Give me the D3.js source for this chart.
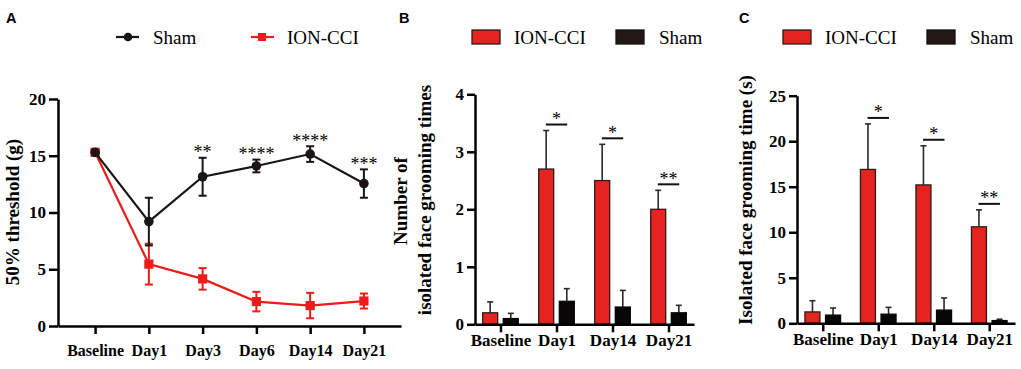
<!DOCTYPE html>
<html>
<head>
<meta charset="utf-8">
<script src="https://cdn.jsdelivr.net/npm/d3@7"></script>
<style>
  body { margin: 0; background: #fff; }
  svg { display: block; }
</style>
</head>
<body>
<div id="chart"></div>
<script>
// --------------------------------------
//  Data
// --------------------------------------

const daysA = ["Baseline", "Day1", "Day3", "Day6", "Day14", "Day21"];
const shamA = [15.3, 9.2, 13.15, 14.1, 15.15, 12.55];
const shamSdA = [0.15, 2.1, 1.67, 0.56, 0.69, 1.25];
const cciA = [15.3, 5.45, 4.15, 2.15, 1.8, 2.2];
const cciSdA = [0.2, 1.8, 0.95, 0.86, 1.12, 0.66];
const starsA = ["", "", "**", "****", "****", "***"];
const ticksA = [0, 5, 10, 15, 20];

const daysBC = ["Baseline", "Day1", "Day14", "Day21"];

const cciB = [0.2, 2.7, 2.5, 2.0];
const cciSdB = [0.19, 0.67, 0.63, 0.33];
const shamB = [0.1, 0.4, 0.3, 0.2];
const shamSdB = [0.09, 0.22, 0.29, 0.13];
const starsB = ["", "*", "*", "**"];
const ticksB = [0, 1, 2, 3, 4];

const cciC = [1.25, 16.9, 15.2, 10.6];
const cciSdC = [1.23, 5.0, 4.3, 1.86];
const shamC = [0.9, 1.0, 1.45, 0.3];
const shamSdC = [0.78, 0.75, 1.33, 0.15];
const starsC = ["", "*", "*", "**"];
const ticksC = [0, 5, 10, 15, 20, 25];

// --------------------------------------
//  Canvas
// --------------------------------------

const width = 1021, height = 369;
const serif = "'Liberation Serif', 'Times New Roman', serif";
const red = "#e52420";
const lineRed = "#ec1c1c";
const dark = "#1a1414";

const svg = d3.select("#chart")
  .append("svg")
    .attr("width", width)
    .attr("height", height)
    .style("font-family", serif);

function styleAxis(g, size) {
  g.attr("font-family", serif)
    .attr("font-size", size)
    .attr("font-weight", "bold");
  g.selectAll("path, line")
    .attr("stroke", "#000")
    .attr("stroke-width", 2.5);
  g.selectAll("text").attr("fill", "#000");
}

function panelLetter(x, y, t) {
  svg.append("text")
    .attr("x", x).attr("y", y)
    .attr("font-family", "'Liberation Sans', Arial, sans-serif")
    .attr("font-weight", "bold")
    .attr("font-size", 14.5)
    .text(t);
}

// --------------------------------------
//  Panel A
// --------------------------------------

panelLetter(6, 23, "A");

const xA = d3.scalePoint()
    .domain(daysA)
    .range([58, 401])
    .padding(0.69);

const yA = d3.scaleLinear()
    .domain([0, 20])
    .range([326, 99]);

svg.append("g")
    .attr("transform", "translate(0, 326)")
    .call(d3.axisBottom(xA).tickSize(8).tickSizeOuter(0).tickPadding(10.5))
    .call(g => styleAxis(g, 16));

svg.append("g")
    .attr("transform", "translate(58, 0)")
    .call(d3.axisLeft(yA).tickValues(ticksA).tickFormat(d3.format("d"))
      .tickSize(9).tickSizeOuter(0).tickPadding(3))
    .call(g => styleAxis(g, 17));

svg.append("text")
    .attr("transform", "translate(12, 212) rotate(-90)")
    .attr("text-anchor", "middle")
    .attr("dominant-baseline", "central")
    .attr("font-weight", "bold")
    .attr("font-size", 19)
    .text("50% threshold (g)");

const seriesA = [
  { key: "cci", mean: cciA, sd: cciSdA, color: lineRed },
  { key: "sham", mean: shamA, sd: shamSdA, color: dark }
];

const lineA = d3.line()
    .x((d, i) => xA(daysA[i]))
    .y(d => yA(d));

seriesA.forEach(s => {
  const g = svg.append("g");
  g.append("path")
    .datum(s.mean)
    .attr("d", lineA)
    .attr("fill", "none")
    .attr("stroke", s.color)
    .attr("stroke-width", 2.2);

  const err = g.selectAll(".err")
    .data(s.mean.map((m, i) => ({ m, sd: s.sd[i], day: daysA[i] })))
    .join("g");
  err.append("line")
    .attr("x1", d => xA(d.day)).attr("x2", d => xA(d.day))
    .attr("y1", d => yA(d.m - d.sd)).attr("y2", d => yA(d.m + d.sd));
  err.append("line")
    .attr("x1", d => xA(d.day) - 4).attr("x2", d => xA(d.day) + 4)
    .attr("y1", d => yA(d.m + d.sd)).attr("y2", d => yA(d.m + d.sd));
  err.append("line")
    .attr("x1", d => xA(d.day) - 4).attr("x2", d => xA(d.day) + 4)
    .attr("y1", d => yA(d.m - d.sd)).attr("y2", d => yA(d.m - d.sd));
  err.selectAll("line")
    .attr("stroke", s.color)
    .attr("stroke-width", 2);

  if (s.key === "sham") {
    g.selectAll("circle")
      .data(s.mean)
      .join("circle")
      .attr("cx", (d, i) => xA(daysA[i]))
      .attr("cy", d => yA(d))
      .attr("r", 4.8)
      .attr("fill", dark);
  } else {
    g.selectAll("rect")
      .data(s.mean)
      .join("rect")
      .attr("x", (d, i) => xA(daysA[i]) - 4.6)
      .attr("y", d => yA(d) - 4.6)
      .attr("width", 9.2)
      .attr("height", 9.2)
      .attr("fill", s.color);
  }
});

svg.selectAll(".starA")
  .data(starsA)
  .join("text")
  .attr("x", (d, i) => xA(daysA[i]))
  .attr("y", (d, i) => yA(shamA[i] + shamSdA[i]) + 0.5)
  .attr("text-anchor", "middle")
  .attr("font-size", 18)
  .text(d => d);

// legend A
const legA = svg.append("g");
legA.append("line").attr("x1", 116).attr("x2", 139).attr("y1", 37).attr("y2", 37)
  .attr("stroke", dark).attr("stroke-width", 2.2);
legA.append("circle").attr("cx", 128).attr("cy", 37).attr("r", 4.3).attr("fill", dark);
legA.append("text").attr("x", 153).attr("y", 43.5).attr("font-size", 19).text("Sham");
legA.append("line").attr("x1", 251).attr("x2", 274).attr("y1", 37).attr("y2", 37)
  .attr("stroke", lineRed).attr("stroke-width", 2.2);
legA.append("rect").attr("x", 258).attr("y", 33).attr("width", 8).attr("height", 8).attr("fill", lineRed);
legA.append("text").attr("x", 287).attr("y", 43.5).attr("font-size", 19).text("ION-CCI");

// --------------------------------------
//  Bar panels B and C
// --------------------------------------

function barPanel(o) {
  panelLetter(o.letterX, 23, o.letter);

  const x = d3.scalePoint()
      .domain(daysBC)
      .range(o.xRange)
      .padding(o.pad);

  const y = d3.scaleLinear()
      .domain([0, o.ticks[o.ticks.length - 1]])
      .range(o.yRange);

  const bars = [];
  daysBC.forEach((day, i) => {
    bars.push({ day, v: o.cci[i], sd: o.cciSd[i], off: -10.3, fill: red, stroke: "#2b1a1a" });
    bars.push({ day, v: o.sham[i], sd: o.shamSd[i], off: 10.3, fill: "#080606", stroke: "#080606" });
  });

  const g = svg.append("g");

  // error bars (upper only)
  g.selectAll(".eb")
    .data(bars)
    .join("line")
    .attr("x1", d => x(d.day) + d.off).attr("x2", d => x(d.day) + d.off)
    .attr("y1", d => y(d.v)).attr("y2", d => y(d.v + d.sd))
    .attr("stroke", "#2a2a2a").attr("stroke-width", 1.6);
  g.selectAll(".cap")
    .data(bars)
    .join("line")
    .attr("x1", d => x(d.day) + d.off - 3).attr("x2", d => x(d.day) + d.off + 3)
    .attr("y1", d => y(d.v + d.sd)).attr("y2", d => y(d.v + d.sd))
    .attr("stroke", "#2a2a2a").attr("stroke-width", 1.6);

  g.selectAll("rect")
    .data(bars)
    .join("rect")
    .attr("x", d => x(d.day) + d.off - 7.5)
    .attr("y", d => y(d.v))
    .attr("width", 15)
    .attr("height", d => y(0) - y(d.v))
    .attr("fill", d => d.fill)
    .attr("stroke", d => d.stroke)
    .attr("stroke-width", 1.3);

  // significance
  const sig = daysBC.map((day, i) => ({ day, s: o.stars[i], top: y(o.cci[i] + o.cciSd[i]) - 6 }))
    .filter(d => d.s);
  g.selectAll(".sig")
    .data(sig)
    .join("line")
    .attr("x1", d => x(d.day) - 10.7).attr("x2", d => x(d.day) + 10.7)
    .attr("y1", d => d.top).attr("y2", d => d.top)
    .attr("stroke", "#111").attr("stroke-width", 2);
  g.selectAll(".st")
    .data(sig)
    .join("text")
    .attr("x", d => x(d.day))
    .attr("y", d => d.top + 0.5)
    .attr("text-anchor", "middle")
    .attr("font-size", 18)
    .text(d => d.s);

  svg.append("g")
      .attr("transform", `translate(0, ${o.yRange[0]})`)
      .call(d3.axisBottom(x).tickSize(8).tickSizeOuter(0).tickPadding(2))
      .call(ax => styleAxis(ax, 17));

  svg.append("g")
      .attr("transform", `translate(${o.xRange[0]}, 0)`)
      .call(d3.axisLeft(y).tickValues(o.ticks).tickFormat(d3.format("d"))
        .tickSize(8).tickSizeOuter(0).tickPadding(3))
      .call(ax => styleAxis(ax, 17));

  o.title.forEach(t => {
    svg.append("text")
      .attr("transform", `translate(${t.x}, ${t.y}) rotate(-90)`)
      .attr("text-anchor", "middle")
      .attr("dominant-baseline", "central")
      .attr("font-weight", "bold")
      .attr("font-size", 19)
      .text(t.text);
  });

  // legend
  const leg = svg.append("g");
  leg.append("rect").attr("x", o.legX).attr("y", 30).attr("width", 28).attr("height", 14)
    .attr("fill", red).attr("stroke", "#2b1a1a").attr("stroke-width", 1.3);
  leg.append("text").attr("x", o.legX + 42).attr("y", 43.5).attr("font-size", 19).text("ION-CCI");
  leg.append("rect").attr("x", o.legX + 144).attr("y", 30).attr("width", 28).attr("height", 14)
    .attr("fill", "#231815").attr("stroke", "#111").attr("stroke-width", 1.3);
  leg.append("text").attr("x", o.legX + 187).attr("y", 43.5).attr("font-size", 19).text("Sham");
}

barPanel({
  letter: "B", letterX: 399,
  xRange: [475, 694], pad: 0.455, yRange: [324.3, 94.3],
  cci: cciB, cciSd: cciSdB, sham: shamB, shamSd: shamSdB, stars: starsB, ticks: ticksB,
  title: [
    { text: "Number of", x: 400, y: 201 },
    { text: "isolated face grooming times", x: 424, y: 200 }
  ],
  legX: 472
});

barPanel({
  letter: "C", letterX: 739,
  xRange: [797, 1015], pad: 0.464, yRange: [323.3, 95.7],
  cci: cciC, cciSd: cciSdC, sham: shamC, shamSd: shamSdC, stars: starsC, ticks: ticksC,
  title: [
    { text: "Isolated face grooming time (s)", x: 745, y: 200 }
  ],
  legX: 783
});
</script>
</body>
</html>
